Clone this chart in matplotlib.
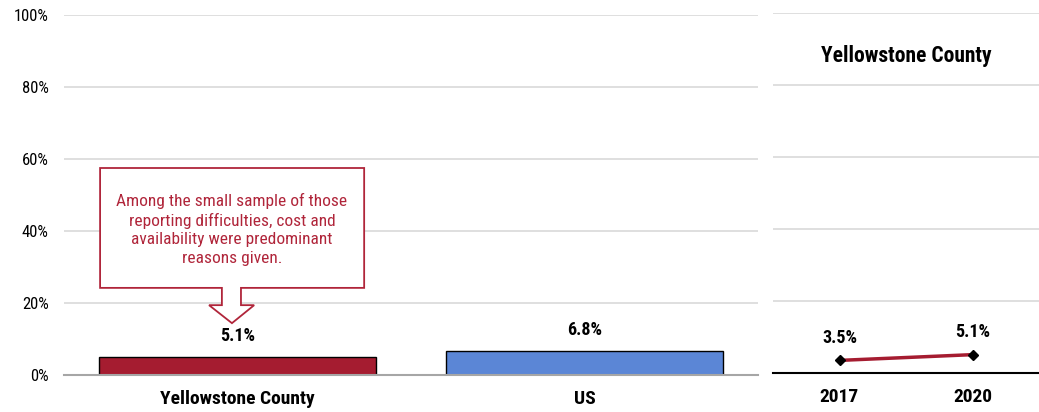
import matplotlib.pyplot as plt
from matplotlib.patches import Polygon
from matplotlib.ticker import PercentFormatter

plt.rcParams['font.family'] = ['Roboto Condensed', 'DejaVu Sans']

# data
categories = ['Yellowstone County', 'US']
values = [5.1, 6.8]
bar_colors = ['#A51C30', '#5B86D6']
years = ['2017', '2020']
trend = [3.5, 5.1]
yticks = [0, 20, 40, 60, 80, 100]
note = ('Among the small sample of those\nreporting difficulties, cost and\n'
        'availability were predominant\nreasons given.')

fig = plt.figure(figsize=(10.39, 4.12), dpi=100)
ax = fig.add_axes([64/1039, 1 - 375/412, 694/1039, 360/412])
ax2 = fig.add_axes([773/1039, 1 - 373/412, 266/1039, 360/412])

# left: bar chart
x = range(len(categories))
ax.bar(x, values, width=0.8, color=bar_colors, edgecolor='black', linewidth=1, zorder=3)
for xi, v in zip(x, values):
    ax.text(xi, v + 3.2, f'{v:.1f}%', ha='center', va='bottom',
            fontsize=13, fontweight='bold')
ax.set_xlim(-0.5, 1.5)
ax.set_ylim(0, 100)
ax.set_yticks(yticks)
ax.yaxis.set_major_formatter(PercentFormatter(decimals=0))
ax.set_xticks(list(x))
ax.set_xticklabels(categories, fontsize=14, fontweight='bold')
ax.tick_params(axis='y', length=0, labelsize=12, pad=11)
ax.tick_params(axis='x', length=0, pad=11)
ax.grid(axis='y', color='#d9d9d9', linewidth=1.2, zorder=0)
for s in ['top', 'right', 'left']:
    ax.spines[s].set_visible(False)
ax.spines['bottom'].set_color('#a6a6a6')
ax.spines['bottom'].set_linewidth(1.5)
ax.spines['bottom'].set_zorder(4)

# callout box with arrow
red_txt = '#B0253A'
box = [(-0.396, 57.5), (0.365, 57.5), (0.365, 24.2), (0.010, 24.2), (0.010, 19.4),
       (0.048, 19.4), (-0.016, 14.4), (-0.082, 19.4), (-0.045, 19.4), (-0.045, 24.2),
       (-0.396, 24.2)]
ax.add_patch(Polygon(box, closed=True, facecolor='white', edgecolor=red_txt,
                     linewidth=1.3, zorder=5))
ax.text(-0.016, 40.5, note, ha='center', va='center', color=red_txt,
        fontsize=12.5, linespacing=1.3, zorder=6)

# right: trend line
xs = range(len(years))
ax2.plot(xs, trend, color='#A51C30', linewidth=2.5, marker='D', markersize=5.5,
         markerfacecolor='black', markeredgecolor='black', zorder=3)
for xi, v in zip(xs, trend):
    ax2.text(xi, v + 3.8, f'{v:.1f}%', ha='center', va='bottom',
             fontsize=13, fontweight='bold')
ax2.set_xlim(-0.5, 1.5)
ax2.set_ylim(0, 100)
ax2.set_yticks(yticks)
ax2.set_yticklabels([])
ax2.set_xticks(list(xs))
ax2.set_xticklabels(years, fontsize=14, fontweight='bold')
ax2.tick_params(axis='y', length=0)
ax2.tick_params(axis='x', length=0, pad=11)
ax2.grid(axis='y', color='#d9d9d9', linewidth=1.2, zorder=0)
for s in ['top', 'right', 'left']:
    ax2.spines[s].set_visible(False)
ax2.spines['bottom'].set_color('black')
ax2.spines['bottom'].set_linewidth(1.5)
ax2.set_title('Yellowstone County', fontsize=15.5, fontweight='bold', y=0.84)

fig.savefig('out.png', dpi=100)
